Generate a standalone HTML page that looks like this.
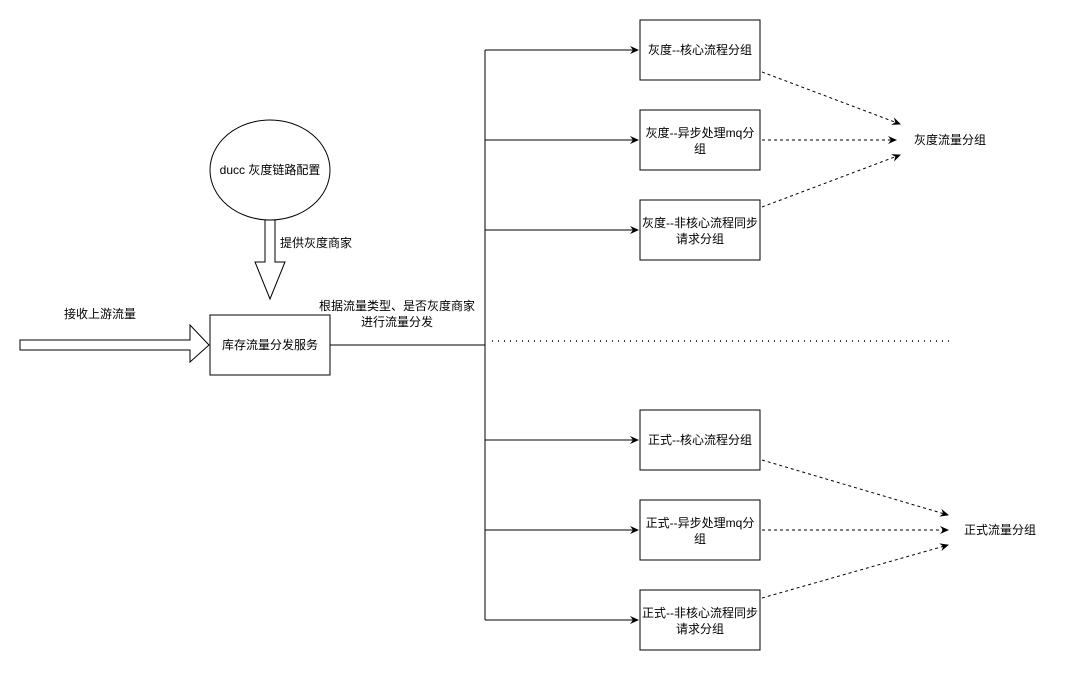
<!DOCTYPE html>
<html><head><meta charset="utf-8"><style>
html,body{margin:0;padding:0;background:#fff;}
svg text{font-family:"Liberation Sans","Noto Sans CJK SC",sans-serif;font-size:12px;fill:#000;}
</style></head><body>
<svg width="1071" height="672" viewBox="0 0 1071 672" xmlns="http://www.w3.org/2000/svg">
<defs>
<marker id="a" markerWidth="10" markerHeight="10" refX="8" refY="5" orient="auto" markerUnits="userSpaceOnUse">
<path d="M0,1 L9,5 L0,9 L3,5 Z" fill="#000"/></marker>
</defs>
<g fill="#fff" stroke="#000" stroke-width="1">
<ellipse cx="270" cy="170" rx="60" ry="50"/>
<path d="M265,220 L275,220 L275,262 L285,262 L270,299 L255,262 L265,262 Z"/>
<path d="M20,340 L190,340 L190,325 L209,345 L190,362 L190,350 L20,350 Z"/>
<rect x="210" y="315" width="120" height="60"/>
<rect x="640" y="20" width="120" height="60"/>
<rect x="640" y="110" width="120" height="60"/>
<rect x="640" y="200" width="120" height="60"/>
<rect x="640" y="410" width="120" height="60"/>
<rect x="640" y="500" width="120" height="60"/>
<rect x="640" y="590" width="120" height="60"/>
</g>
<g stroke="#000" fill="none">
<path d="M330,345 L485,345"/>
<path d="M485,50 L485,620"/>
<path d="M485,50 L638,50" marker-end="url(#a)"/>
<path d="M485,140 L638,140" marker-end="url(#a)"/>
<path d="M485,230 L638,230" marker-end="url(#a)"/>
<path d="M485,440 L638,440" marker-end="url(#a)"/>
<path d="M485,530 L638,530" marker-end="url(#a)"/>
<path d="M485,620 L638,620" marker-end="url(#a)"/>
<path d="M492,341 L952,341" stroke-dasharray="1,5" stroke-width="1.5"/>
<g stroke-dasharray="3,3">
<path d="M762,72 L900,124" marker-end="url(#a)"/>
<path d="M762,140 L896,140" marker-end="url(#a)"/>
<path d="M762,207 L900,155" marker-end="url(#a)"/>
<path d="M762,460 L948,515" marker-end="url(#a)"/>
<path d="M762,530 L948,530" marker-end="url(#a)"/>
<path d="M762,598 L948,545" marker-end="url(#a)"/>
</g>
</g>
<g text-anchor="middle">
<text x="270" y="174">ducc 灰度链路配置</text>
<text x="316" y="247">提供灰度商家</text>
<text x="100" y="318">接收上游流量</text>
<text x="270" y="349">库存流量分发服务</text>
<text x="397" y="310">根据流量类型、是否灰度商家</text>
<text x="397" y="326">进行流量分发</text>
<text x="700" y="54">灰度--核心流程分组</text>
<text x="700" y="137">灰度--异步处理mq分</text>
<text x="700" y="153">组</text>
<text x="700" y="227">灰度--非核心流程同步</text>
<text x="700" y="243">请求分组</text>
<text x="950" y="144">灰度流量分组</text>
<text x="700" y="444">正式--核心流程分组</text>
<text x="700" y="527">正式--异步处理mq分</text>
<text x="700" y="543">组</text>
<text x="700" y="617">正式--非核心流程同步</text>
<text x="700" y="633">请求分组</text>
<text x="1000" y="534">正式流量分组</text>
</g>
</svg>
</body></html>
